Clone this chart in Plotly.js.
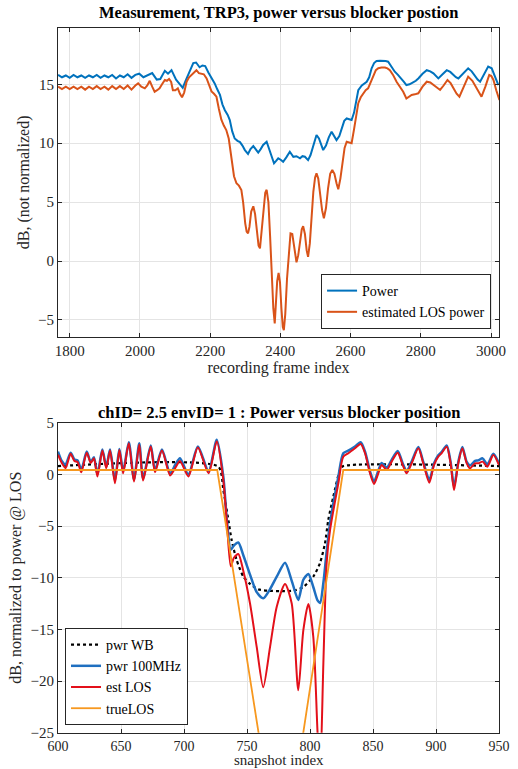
<!DOCTYPE html>
<html>
<head>
<meta charset="utf-8">
<script src="https://cdn.plot.ly/plotly-3.0.1.min.js"></script>
<style>html,body{margin:0;padding:0;background:#fff;}#chart{width:518px;height:769px;}</style>
</head>
<body>
<div id="chart"></div>
<script>
// ---------- Top chart: measurement, TRP3 ----------
const powerX = [1767,1778,1789,1800,1811,1822,1833,1844,1855,1866,1877,1888,1899,1910,1921,1932,1943,1954,1965,1976,1987,1998,2010,2021,2035,2048,2058,2071,2080,2090,2103,2114,2122,2130,2140,2152,2160,2170,2178,2186,2195,2204,2213,2220,2228,2235,2242,2250,2256,2263,2270,2278,2285,2292,2299,2308,2315,2323,2330,2337,2344,2351,2361,2370,2376,2382,2388,2394,2401,2408,2417,2427,2437,2446,2456,2463,2470,2479,2486,2494,2503,2510,2516,2522,2530,2538,2546,2553,2560,2568,2575,2582,2589,2596,2603,2610,2617,2622,2632,2646,2653,2660,2667,2674,2684,2694,2700,2707,2716,2726,2735,2745,2752,2759,2768,2778,2786,2793,2805,2817,2827,2836,2843,2850,2862,2874,2884,2893,2900,2907,2920,2935,2945,2955,2962,2969,2980,2992,3002,3012,3021];
const powerY = [15.8,15.6,15.75,15.55,15.8,15.6,15.75,15.55,15.75,15.6,15.8,15.55,15.75,15.6,15.8,15.5,15.75,15.6,15.85,15.55,15.8,15.9,15.6,15.75,15.95,15.4,15.45,16.15,15.9,16.2,15.4,15.0,14.7,15.3,16.0,16.8,16.85,16.45,16.6,16.55,16.0,15.55,15.08,14.6,14.1,13.3,12.8,12.4,11.97,11.0,10.4,10.2,10.1,9.8,9.42,9.1,9.5,9.76,9.5,9.2,9.5,9.85,10.13,9.42,8.8,8.3,8.5,8.72,8.6,8.43,8.8,9.28,8.85,8.9,8.72,8.9,8.85,8.57,9.0,9.9,10.7,10.4,9.8,9.42,9.8,10.5,10.98,10.6,10.27,10.6,11.3,11.9,12.1,12.0,11.97,12.6,13.8,14.5,14.9,15.22,15.6,16.36,16.8,16.98,17.0,17.0,16.98,16.92,16.5,16.07,15.8,15.5,15.2,14.94,15.0,15.17,15.3,15.5,15.9,16.2,16.1,15.93,15.7,15.5,15.85,16.2,16.05,15.79,15.6,15.5,15.9,16.36,16.1,15.65,15.4,15.22,15.8,16.5,16.36,15.6,14.94];

const losX = [1767,1778,1789,1800,1811,1822,1833,1844,1855,1866,1877,1888,1899,1910,1921,1932,1943,1954,1965,1976,1987,1995,2004,2014,2021,2028,2035,2042,2049,2056,2063,2071,2077,2083,2089,2094,2101,2108,2114,2120,2126,2133,2140,2147,2154,2161,2168,2175,2182,2190,2197,2204,2211,2218,2225,2232,2239,2246,2253,2258,2263,2268,2275,2282,2289,2294,2300,2304,2308,2312,2317,2323,2328,2333,2338,2342,2347,2352,2357,2361,2366,2371,2376,2380,2384,2387,2391,2395,2399,2403,2407,2410,2414,2419,2424,2429,2434,2440,2446,2451,2456,2461,2465,2470,2475,2479,2484,2489,2494,2499,2503,2508,2513,2519,2524,2530,2536,2542,2548,2554,2560,2565,2571,2577,2583,2589,2596,2603,2610,2616,2622,2629,2636,2643,2650,2657,2665,2672,2679,2688,2698,2705,2712,2721,2731,2740,2750,2759,2766,2774,2783,2793,2805,2817,2827,2836,2845,2855,2865,2876,2885,2893,2902,2910,2920,2935,2947,2959,2966,2973,2984,2995,3001,3007,3015,3024];
const losY = [14.8,14.6,14.8,14.6,14.8,14.6,14.8,14.55,14.8,14.6,14.85,14.6,14.8,14.55,14.85,14.6,14.85,14.6,14.9,14.55,14.9,15.08,14.8,14.66,14.9,15.3,14.8,14.37,14.5,14.66,15.0,15.37,15.3,15.45,15.2,14.5,14.5,14.66,14.2,13.9,14.3,15.22,15.6,15.8,16.0,16.2,15.95,15.9,15.85,15.5,14.9,14.4,14.2,13.95,12.9,12.0,11.5,11.12,10.4,9.2,8.0,7.2,6.6,6.4,6.03,5.0,3.2,2.5,2.35,2.9,4.2,4.65,4.0,2.5,1.3,1.08,2.5,4.5,5.8,6.05,5.0,2.0,-1.5,-4.0,-5.3,-4.0,-1.7,-1.0,-1.8,-4.0,-5.6,-5.86,-4.5,-1.5,0.8,2.35,2.3,0.9,-0.1,0.5,1.8,2.7,2.95,2.3,0.9,0.36,1.5,3.8,5.9,7.1,7.44,7.0,5.8,4.3,3.62,4.5,6.2,7.4,7.72,7.4,6.6,6.1,7.0,8.5,9.6,10.13,10.05,10.0,11.2,12.5,13.4,13.9,14.24,14.5,14.66,15.2,15.79,16.2,16.36,16.42,16.42,16.35,16.2,15.8,15.22,14.8,14.37,13.8,13.95,14.1,14.15,14.24,14.8,15.22,15.15,14.94,14.7,14.52,14.9,15.37,15.1,14.66,14.2,13.95,14.6,15.65,15.3,14.66,14.2,13.95,14.8,15.79,15.7,15.37,14.5,13.67];

const topXTicks = [1800,2000,2200,2400,2600,2800,3000];
const topYTicks = [-5,0,5,10,15];

// ---------- Bottom chart: chID= 2.5 envID= 1 ----------
const snapX = [600,603,606,610,613,615.5,618.5,622.8,626,628.5,631.3,635.2,638.3,641.3,645.2,648.7,651.7,656.2,660.3,664.5,667.5,673.6,677,682.5,689,693,696.8,703.5,711,719.5,726,731.2,734,737.1,739.5,743.1,747,752.4,757.7,762.9,768.3,773.6,780.2,785.5,790.7,794.7,798.7,802.6,806,808,810.6,813.2,815.9,822.5,826.4,830.4,835.7,840.2,843.7,847.6,850.8,854.2,856.9,860.9,864.8,869.6,873.6,876.7,880.7,886,889.9,894.7,898.4,901.8,904.4,908.5,911.6,914.3,917.7,920.9,924.4,927,931,933.6,937,940.7,945.5,950];
const estLOS = [1.9,1.1,0.6,2.0,1.3,1.2,0.2,2.1,1.1,1.55,-0.2,2.3,0.6,2.3,-0.85,2.35,0.1,3.0,-0.7,2.9,-0.6,2.7,0.2,2.3,-0.1,0.6,1.3,-0.2,2.6,0.1,3.2,-0.55,-4.6,-8.9,-8.1,-7.7,-9.3,-12.5,-16.7,-20.6,-16.7,-12.8,-10.6,-12.5,-20.9,-15.1,-12.55,-15.7,-25,-29,-18.3,-8.6,-5.4,-0.87,1.7,2.04,2.52,2.94,2.04,0.1,-0.93,0.1,0.9,0.42,1.23,2.1,0.9,0.1,1.07,2.52,1.07,-0.81,0.9,1.71,2.04,2.68,1.07,-1.52,1.07,2.52,1.07,0.58,1.07,1.07,1.23,0.74,1.87,0.9];
const pwr100 = [2.2,1.3,0.95,2.1,1.45,1.35,0.45,2.2,1.2,1.65,0.0,2.4,0.75,2.4,-0.6,2.45,0.3,3.1,-0.5,3.0,-0.4,2.8,0.4,2.4,0.1,0.9,1.55,0.0,2.7,0.3,3.35,-0.2,-4.4,-7.3,-6.9,-6.6,-7.8,-9.7,-11.4,-12.0,-11.1,-9.9,-8.55,-10.3,-12.15,-10.2,-9.65,-10.9,-12.2,-12.45,-10.5,-7.5,-4.74,-0.23,2.04,2.3,2.7,3.1,2.2,0.3,-0.7,0.35,1.1,0.65,1.4,2.25,1.05,0.3,1.25,2.65,1.2,-0.55,1.05,1.85,2.15,2.8,1.2,-1.2,1.2,2.65,1.2,0.85,1.3,1.35,1.55,0.95,2.0,1.05];

const wbX = [600,727.2,731.2,735.2,737.8,741.8,747.1,752.4,759,766.9,776,786.7,794.7,802.6,807.9,811.9,814.5,818.5,823.8,826.4,950];
const wbY = [0.8,0.75,-1.5,-4.4,-6.36,-8.3,-9.9,-10.6,-11.13,-11.26,-11.3,-11.26,-10.9,-9.9,-8.6,-6.68,-4.42,-2.16,0.42,0.8,0.8];

const trueX = [600,726.4,777.2,826.4,950];
const trueY = [0.42,0.42,-39,0.42,0.42];

const botXTicks = [600,650,700,750,800,850,900,950];
const botYTicks = [-25,-20,-15,-10,-5,0,5];

// ---------- styling ----------
const FONT = 'Liberation Serif, Times New Roman, serif';
const INK = '#262626';

function axisBase(extra){
  return Object.assign({
    showline:true, mirror:'ticks', linecolor:INK, linewidth:1,
    ticks:'inside', ticklen:4, tickcolor:INK, tickwidth:1,
    showgrid:true, gridcolor:'#e4e4e4', gridwidth:1, zeroline:false,
    tickfont:{family:FONT, size:15, color:INK},
    fixedrange:true
  }, extra);
}

const traces = [
  {x:powerX, y:powerY, xaxis:'x', yaxis:'y', type:'scatter', mode:'lines', name:'Power',
   line:{color:'#0072BD', width:2}, legend:'legend'},
  {x:losX, y:losY, xaxis:'x', yaxis:'y', type:'scatter', mode:'lines', name:'estimated LOS power',
   line:{color:'#D95319', width:2}, legend:'legend'},
  {x:wbX, y:wbY, xaxis:'x2', yaxis:'y2', type:'scatter', mode:'lines', name:'pwr WB',
   line:{color:'#000000', width:2.2, dash:'dot', shape:'spline', smoothing:0.6}, legend:'legend2'},
  {x:snapX, y:pwr100, xaxis:'x2', yaxis:'y2', type:'scatter', mode:'lines', name:'pwr 100MHz',
   line:{color:'#1F6FC0', width:2.5, shape:'spline', smoothing:0.7}, legend:'legend2'},
  {x:snapX, y:estLOS, xaxis:'x2', yaxis:'y2', type:'scatter', mode:'lines', name:'est LOS',
   line:{color:'#E3101A', width:2, shape:'spline', smoothing:0.7}, legend:'legend2'},
  {x:trueX, y:trueY, xaxis:'x2', yaxis:'y2', type:'scatter', mode:'lines', name:'trueLOS',
   line:{color:'#F7981F', width:1.8}, legend:'legend2'}
];

// plot area spans pixels 28..753 (margin b = 16); domains placed so the axes sit where the reference has them
const layout = {
  width:518, height:769,
  margin:{l:58, r:19, t:28, b:16},
  paper_bgcolor:'#ffffff', plot_bgcolor:'#ffffff',
  font:{family:FONT, color:INK},
  showlegend:true,
  xaxis: axisBase({domain:[0,1], anchor:'y', range:[1766.7,3022.8], tickvals:topXTicks,
    title:{text:'recording frame index', font:{family:FONT, size:16, color:INK}, standoff:2}}),
  yaxis: axisBase({domain:[0.5742,1], anchor:'x', range:[-6.42,19.78], tickvals:topYTicks,
    title:{text:'dB, (not normalized)', font:{family:FONT, size:16, color:INK}, standoff:4}}),
  xaxis2: axisBase({domain:[0,1], anchor:'y2', range:[600,950], tickvals:botXTicks,
    tickfont:{family:FONT, size:14, color:INK}}),
  yaxis2: axisBase({domain:[0.028,0.4556], anchor:'x2', range:[-25,5], tickvals:botYTicks,
    title:{text:'dB, normalized to power @ LOS', font:{family:FONT, size:16, color:INK}, standoff:4}}),
  legend:{x:0.982, xanchor:'right', y:0.5848, yanchor:'bottom', bgcolor:'#ffffff',
    bordercolor:INK, borderwidth:1, font:{family:FONT, size:14, color:'#000'},
    itemwidth:30, tracegroupgap:0, traceorder:'normal'},
  legend2:{x:0.0159, xanchor:'left', y:0.0386, yanchor:'bottom', bgcolor:'#ffffff',
    bordercolor:INK, borderwidth:1, font:{family:FONT, size:14, color:'#000'},
    itemwidth:30, tracegroupgap:0, traceorder:'normal'},
  annotations:[
    {text:'<b>Measurement, TRP3, power versus blocker postion</b>', xref:'paper', yref:'paper',
     x:0.5, y:1.0207, xanchor:'center', yanchor:'middle', showarrow:false,
     font:{family:FONT, size:16.5, color:'#000'}},
    {text:'<b>chID= 2.5 envID= 1 : Power versus blocker position</b>', xref:'paper', yref:'paper',
     x:0.5, y:0.4703, xanchor:'center', yanchor:'middle', showarrow:false,
     font:{family:FONT, size:16.5, color:'#000'}},
    // x-axis title of the lower panel
    {text:'snapshot index', xref:'paper', yref:'paper',
     x:0.5, y:-0.0215, xanchor:'center', yanchor:'bottom', showarrow:false, borderpad:0,
     font:{family:FONT, size:15, color:INK}}
  ]
};

Plotly.newPlot('chart', traces, layout, {displayModeBar:false, staticPlot:true});
</script>
</body>
</html>
